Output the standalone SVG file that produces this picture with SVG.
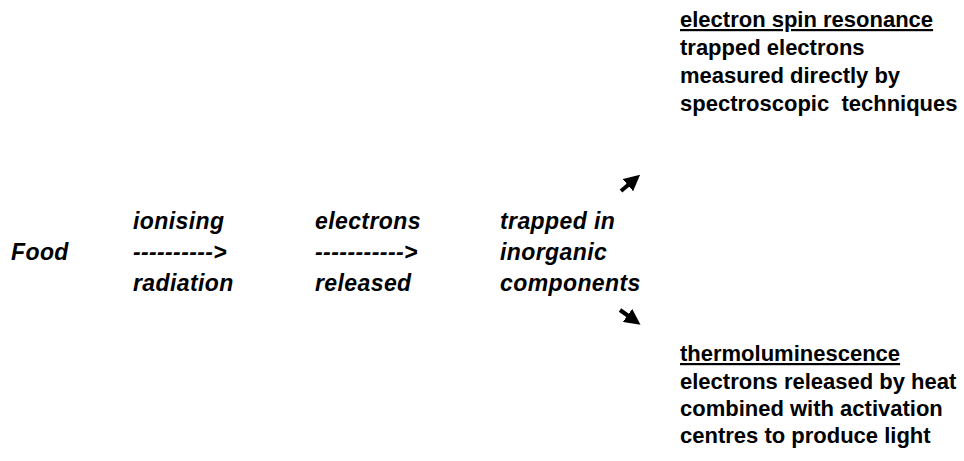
<svg xmlns="http://www.w3.org/2000/svg" width="964" height="461" viewBox="0 0 964 461">
<style>
text{font-family:"Liberation Sans",Arial,sans-serif;fill:#000}
.i{font-style:italic;font-weight:bold;font-size:23px;letter-spacing:0.4px}
.r{font-size:22px;font-weight:bold}
.c{stroke:#000;stroke-width:4;fill:none}
</style>
<defs>
<marker id="ah" markerWidth="4" markerHeight="4" refX="2" refY="2" orient="auto" markerUnits="strokeWidth"><path d="M0,0 L4,2 L0,4 z" fill="#000"/></marker>
</defs>
<rect width="964" height="461" fill="#fff"/>
<g id="food"><text class="i" x="11" y="260">Food</text></g>
<g id="step1"><text class="i" x="133" y="229">ionising</text><text class="i" x="133" y="260" textLength="94" lengthAdjust="spacingAndGlyphs">----------&gt;</text><text class="i" x="133" y="291">radiation</text></g>
<g id="step2"><text class="i" x="315" y="229">electrons</text><text class="i" x="315" y="260" textLength="103" lengthAdjust="spacingAndGlyphs">-----------&gt;</text><text class="i" x="315" y="291">released</text></g>
<g id="trapped"><text class="i" x="500" y="229">trapped in</text><text class="i" x="500" y="260">inorganic</text><text class="i" x="500" y="291">components</text></g>
<g id="connectors">
<path class="c" d="M621,191 L634,180" marker-end="url(#ah)"/>
<path class="c" d="M620,310 L634,320" marker-end="url(#ah)"/>
</g>
<g id="esr"><text class="r" x="680" y="27" text-decoration="underline">electron spin resonance</text><text class="r" x="680" y="55">trapped electrons</text><text class="r" x="680" y="83">measured directly by</text><text class="r" x="680" y="111" xml:space="preserve">spectroscopic  techniques</text></g>
<g id="tl"><text class="r" x="680" y="361" text-decoration="underline">thermoluminescence</text><text class="r" x="680" y="389">electrons released by heat</text><text class="r" x="680" y="416">combined with activation</text><text class="r" x="680" y="443">centres to produce light</text></g>
</svg>
